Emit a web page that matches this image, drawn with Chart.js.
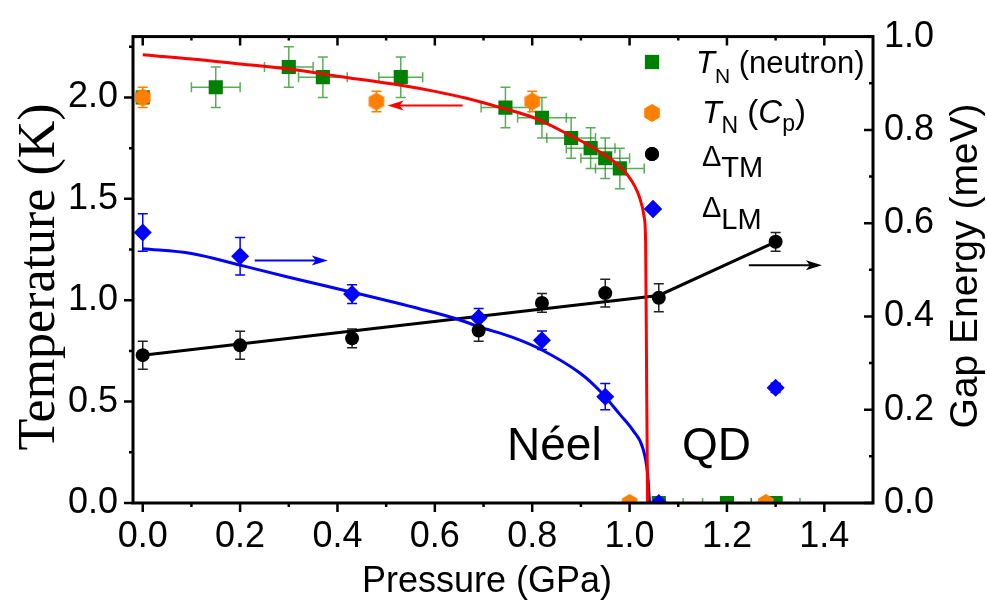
<!DOCTYPE html>
<html>
<head>
<meta charset="utf-8">
<script src="https://cdn.jsdelivr.net/npm/chart.js@4.4.0/dist/chart.umd.min.js"></script>
<style>
  html, body { margin: 0; padding: 0; background: #fff; }
</style>
</head>
<body>
<canvas id="phaseChart" width="987" height="603"></canvas>
<script>
// tick labels
const xTicks = [0, 0.2, 0.4, 0.6, 0.8, 1.0, 1.2, 1.4];
const leftTicks = [0, 0.5, 1.0, 1.5, 2.0];
const rightTicks = [0, 0.2, 0.4, 0.6, 0.8, 1.0];

// T_N fit (red, left axis, K)
const redX = [0, 0.1, 0.2, 0.3, 0.4, 0.53, 0.6, 0.667, 0.735, 0.803, 0.872, 0.94, 0.995, 1.02, 1.03, 1.033, 1.035, 1.037];
const redY = [2.21, 2.19, 2.165, 2.14, 2.105, 2.06, 2.03, 1.995, 1.95, 1.90, 1.82, 1.73, 1.62, 1.51, 1.41, 1.28, 0.6, 0];

// Delta_LM fit (blue, right axis, meV)
const blueX = [0, 0.1, 0.2, 0.3, 0.43, 0.57, 0.65, 0.69, 0.76, 0.82, 0.9, 0.94, 0.98, 1.008, 1.027, 1.037, 1.041];
const blueY = [0.545, 0.535, 0.51, 0.484, 0.452, 0.416, 0.393, 0.378, 0.355, 0.328, 0.277, 0.239, 0.19, 0.154, 0.118, 0.063, 0];

// Delta_TM guide line (black, right axis)
const blackX = [0, 1.06, 1.3];
const blackY = [0.317, 0.445, 0.56];

// T_N (neutron), green squares
const neutronX = [0, 0.15, 0.30, 0.37, 0.53, 0.745, 0.82, 0.88, 0.92, 0.95, 0.98, 1.06, 1.2, 1.3];
const neutronY = [2.0, 2.05, 2.15, 2.10, 2.10, 1.95, 1.90, 1.80, 1.75, 1.70, 1.65, 0, 0, 0];
const neutronXErr = [0, 0.05, 0.05, 0.05, 0.045, 0.05, 0.05, 0.05, 0.05, 0.05, 0.05, 0.05, 0.05, 0.05];
const neutronYErr = [0, 0.1, 0.1, 0.1, 0.1, 0.1, 0.1, 0.1, 0.1, 0.1, 0.1, 0, 0, 0];

// T_N (Cp), orange hexagons
const cpX = [0, 0.48, 0.80, 1.0, 1.28];
const cpY = [2.0, 1.98, 1.98, 0, 0];
const cpYErr = [0.05, 0.05, 0.05, 0, 0];

// Delta_TM, black circles
const tmX = [0, 0.2, 0.43, 0.69, 0.82, 0.95, 1.06, 1.3];
const tmY = [0.317, 0.338, 0.353, 0.37, 0.429, 0.45, 0.44, 0.56];
const tmErr = [0.03, 0.03, 0.02, 0.023, 0.02, 0.03, 0.03, 0.02];

// Delta_LM, blue diamonds
const lmX = [0, 0.2, 0.43, 0.69, 0.82, 0.95, 1.06, 1.3];
const lmY = [0.58, 0.529, 0.448, 0.397, 0.349, 0.228, 0, 0.247];
const lmErr = [0.04, 0.04, 0.02, 0.02, 0.02, 0.028, 0, 0.01];

// arrows [tail, tip]
const redArrow = [[0.657, 1.96], [0.503, 1.96]];
const blueArrow = [[0.23, 0.52], [0.38, 0.52]];
const blackArrow = [[1.245, 0.51], [1.395, 0.51]];

const GREEN = '#008000', ORANGE = '#FF8000', BLUE = '#0000FF', RED = '#FF0000';
const SANS = '"Liberation Sans", Arial, sans-serif';

function pts(xs, ys) {
    return xs.map((x, i) => ({ x: x, y: ys[i] }));
}

// hexagon marker (no built-in style for it)
function hexImage(r, color) {
    const c = document.createElement('canvas');
    c.width = c.height = 2 * r + 2;
    const g = c.getContext('2d');
    g.fillStyle = color;
    g.beginPath();
    for (let k = 0; k < 6; k++) {
        const a = Math.PI / 2 + k * Math.PI / 3;
        const px = r + 1 + r * Math.cos(a), py = r + 1 + r * Math.sin(a);
        if (k === 0) g.moveTo(px, py); else g.lineTo(px, py);
    }
    g.closePath();
    g.fill();
    return c;
}
const hex = hexImage(9, ORANGE);

// error bars, behind the markers
const errorBars = {
    id: 'errorBars',
    beforeDatasetsDraw(chart) {
        const ctx = chart.ctx, a = chart.chartArea;
        ctx.save();
        ctx.beginPath();
        ctx.rect(a.left, a.top, a.right - a.left, a.bottom - a.top);
        ctx.clip();
        chart.data.datasets.forEach(ds => {
            if (!ds.errY && !ds.errX) return;
            const xs = chart.scales.x, ys = chart.scales[ds.yAxisID];
            ctx.strokeStyle = ds.errColor;
            ctx.lineWidth = 1.5;
            ds.data.forEach((p, j) => {
                const px = xs.getPixelForValue(p.x), py = ys.getPixelForValue(p.y);
                const ey = ds.errY ? ds.errY[j] : 0, ex = ds.errX ? ds.errX[j] : 0;
                ctx.beginPath();
                if (ey) {
                    const t = ys.getPixelForValue(p.y + ey), b = ys.getPixelForValue(p.y - ey);
                    ctx.moveTo(px, t); ctx.lineTo(px, b);
                    ctx.moveTo(px - 5, t); ctx.lineTo(px + 5, t);
                    ctx.moveTo(px - 5, b); ctx.lineTo(px + 5, b);
                }
                if (ex) {
                    const l = xs.getPixelForValue(p.x - ex), r = xs.getPixelForValue(p.x + ex);
                    ctx.moveTo(l, py); ctx.lineTo(r, py);
                    ctx.moveTo(l, py - 5); ctx.lineTo(l, py + 5);
                    ctx.moveTo(r, py - 5); ctx.lineTo(r, py + 5);
                }
                ctx.stroke();
            });
        });
        ctx.restore();
    }
};

function drawArrow(ctx, chart, arrow, axisID, color) {
    const xs = chart.scales.x, ys = chart.scales[axisID];
    const x0 = xs.getPixelForValue(arrow[0][0]), y0 = ys.getPixelForValue(arrow[0][1]);
    const x1 = xs.getPixelForValue(arrow[1][0]), y1 = ys.getPixelForValue(arrow[1][1]);
    const dir = Math.sign(x1 - x0);
    ctx.strokeStyle = color; ctx.fillStyle = color; ctx.lineWidth = 2;
    ctx.beginPath(); ctx.moveTo(x0, y0); ctx.lineTo(x1 - dir * 10, y1); ctx.stroke();
    ctx.beginPath();
    ctx.moveTo(x1, y1);
    ctx.lineTo(x1 - dir * 16, y1 - 5);
    ctx.lineTo(x1 - dir * 12, y1);
    ctx.lineTo(x1 - dir * 16, y1 + 5);
    ctx.closePath(); ctx.fill();
}

// text with sub parts: [text, font, dy]
function drawRich(ctx, x, y, parts) {
    ctx.textAlign = 'left'; ctx.textBaseline = 'alphabetic'; ctx.fillStyle = '#000';
    parts.forEach(p => {
        ctx.font = p[1];
        ctx.fillText(p[0], x, y + (p[2] || 0));
        x += ctx.measureText(p[0]).width;
    });
}

const decorations = {
    id: 'decorations',
    afterDatasetsDraw(chart) {
        const ctx = chart.ctx, a = chart.chartArea;
        const xs = chart.scales.x, yl = chart.scales.yL, yr = chart.scales.yR;
        ctx.save();

        drawArrow(ctx, chart, redArrow, 'yL', RED);
        drawArrow(ctx, chart, blueArrow, 'yR', BLUE);
        drawArrow(ctx, chart, blackArrow, 'yR', '#000');

        // frame and tick marks
        ctx.strokeStyle = '#000'; ctx.lineWidth = 3;
        ctx.strokeRect(a.left, a.top, a.right - a.left, a.bottom - a.top);
        ctx.lineWidth = 2.5;
        ctx.beginPath();
        for (let v = 0; v <= 1.45; v += 0.1) {
            const px = xs.getPixelForValue(v);
            const major = Math.round(v * 10) % 2 === 0;
            const len = major ? 9 : 4;
            ctx.moveTo(px, a.bottom); ctx.lineTo(px, a.bottom + len);
            ctx.moveTo(px, a.top); ctx.lineTo(px, a.top + len);
        }
        for (let v = 0; v <= 2.26; v += 0.25) {
            const py = yl.getPixelForValue(v);
            const len = Math.round(v * 4) % 2 === 0 ? 9 : 4;
            ctx.moveTo(a.left, py); ctx.lineTo(a.left - len, py);
        }
        for (let v = 0; v <= 1.01; v += 0.1) {
            const py = yr.getPixelForValue(v);
            const len = Math.round(v * 10) % 2 === 0 ? 9 : 4;
            ctx.moveTo(a.right, py); ctx.lineTo(a.right - len, py);
        }
        ctx.stroke();

        // phase labels
        ctx.fillStyle = '#000';
        ctx.font = '46px ' + SANS;
        ctx.textAlign = 'left'; ctx.textBaseline = 'alphabetic';
        ctx.fillText('Néel', 507, 460);
        ctx.fillText('QD', 682, 460);

        // axis titles
        ctx.font = '36px ' + SANS;
        ctx.textAlign = 'center';
        ctx.fillText('Pressure (GPa)', 487, 592);

        ctx.save();
        ctx.translate(54, 277);
        ctx.rotate(-Math.PI / 2);
        ctx.font = '52px "Liberation Serif", "Times New Roman", serif';
        ctx.fillText('Temperature (K)', 0, 0);
        ctx.restore();

        ctx.save();
        ctx.translate(977, 266);
        ctx.rotate(-Math.PI / 2);
        ctx.font = '39px ' + SANS;
        ctx.fillText('Gap Energy (meV)', 0, 0);
        ctx.restore();

        // legend
        const lx = 652;
        ctx.fillStyle = GREEN;
        Chart.helpers.drawPoint(ctx, { pointStyle: 'rect', radius: 10, borderWidth: 0 }, lx, 62);
        ctx.fill();
        ctx.drawImage(hex, lx - hex.width / 2, 113 - hex.height / 2);
        ctx.fillStyle = '#000';
        Chart.helpers.drawPoint(ctx, { pointStyle: 'circle', radius: 7, borderWidth: 0 }, lx, 154);
        ctx.fill();
        ctx.fillStyle = BLUE;
        Chart.helpers.drawPoint(ctx, { pointStyle: 'rectRot', radius: 9, borderWidth: 0 }, lx + 1, 209);
        ctx.fill();

        const it = 'italic 31px ' + SANS, rg = '31px ' + SANS, sub = '21px ' + SANS, sub2 = '29px ' + SANS;
        drawRich(ctx, 696, 73, [['T', it], ['N', sub, 10], [' (neutron)', rg]]);
        drawRich(ctx, 702, 123, [['T', 'italic 32px ' + SANS], ['N', '23px ' + SANS, 10], [' (', '33px ' + SANS],
                                 ['C', 'italic 33px ' + SANS], ['p', '23px ' + SANS, 8], [')', '33px ' + SANS]]);
        drawRich(ctx, 702, 166, [['\u0394', sub2], ['TM', sub2, 11]]);
        drawRich(ctx, 702, 217, [['\u0394', sub2], ['LM', sub2, 12]]);

        ctx.restore();
    }
};

const ctx = document.getElementById('phaseChart').getContext('2d');

new Chart(ctx, {
    type: 'scatter',
    data: {
        datasets: [
            { data: pts(redX, redY), yAxisID: 'yL', showLine: true, borderColor: RED, borderWidth: 3, pointRadius: 0,
              cubicInterpolationMode: 'monotone', order: 1 },
            { data: pts(blueX, blueY), yAxisID: 'yR', showLine: true, borderColor: BLUE, borderWidth: 3, pointRadius: 0,
              cubicInterpolationMode: 'monotone', order: 3 },
            { data: pts(blackX, blackY), yAxisID: 'yR', showLine: true, borderColor: '#000', borderWidth: 3, pointRadius: 0,
              tension: 0, order: 3 },
            { data: pts(neutronX, neutronY), yAxisID: 'yL', pointStyle: 'rect', pointRadius: 10, pointBorderWidth: 0,
              backgroundColor: GREEN, errX: neutronXErr, errY: neutronYErr, errColor: 'rgba(0,128,0,0.65)', order: 4 },
            { data: pts(cpX, cpY), yAxisID: 'yL', pointStyle: hex, pointRadius: 9,
              errY: cpYErr, errColor: ORANGE, order: 2 },
            { data: pts(tmX, tmY), yAxisID: 'yR', pointStyle: 'circle', pointRadius: 7, pointBorderWidth: 0,
              backgroundColor: '#000', errY: tmErr, errColor: '#222', order: 2 },
            { data: pts(lmX, lmY), yAxisID: 'yR', pointStyle: 'rectRot', pointRadius: 9, pointBorderWidth: 0,
              backgroundColor: BLUE, errY: lmErr, errColor: BLUE, order: 2 }
        ]
    },
    options: {
        responsive: false,
        animation: false,
        devicePixelRatio: 1,
        layout: { padding: { top: 30, left: 0, right: 0, bottom: 0 } },
        plugins: { legend: { display: false }, tooltip: { enabled: false } },
        scales: {
            x: {
                type: 'linear', position: 'bottom', min: -0.02, max: 1.5,
                afterBuildTicks: s => { s.ticks = xTicks.map(v => ({ value: v })); },
                afterFit: s => { s.height = 100; },
                grid: { display: false, drawTicks: false },
                border: { display: false },
                ticks: { color: '#000', font: { size: 36, family: SANS }, padding: 12, maxRotation: 0,
                         callback: v => v.toFixed(1) }
            },
            yL: {
                type: 'linear', position: 'left', min: 0, max: 2.3,
                afterBuildTicks: s => { s.ticks = leftTicks.map(v => ({ value: v })); },
                afterFit: s => { s.width = 133; },
                grid: { display: false, drawTicks: false },
                border: { display: false },
                ticks: { color: '#000', font: { size: 36, family: SANS }, padding: 15,
                         callback: v => v.toFixed(1) }
            },
            yR: {
                type: 'linear', position: 'right', min: 0, max: 1,
                afterBuildTicks: s => { s.ticks = rightTicks.map(v => ({ value: v })); },
                afterFit: s => { s.width = 114; },
                grid: { display: false, drawTicks: false },
                border: { display: false },
                ticks: { color: '#000', font: { size: 36, family: SANS }, padding: 11,
                         callback: v => v.toFixed(1) }
            }
        }
    },
    plugins: [errorBars, decorations]
});
</script>
</body>
</html>
